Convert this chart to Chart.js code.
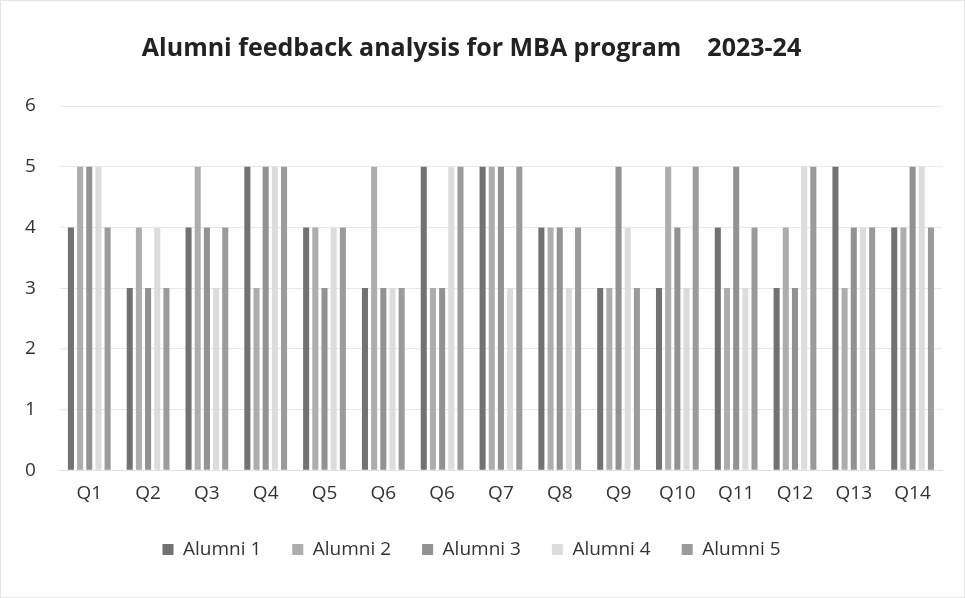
<!DOCTYPE html>
<html>
<head>
<meta charset="utf-8">
<script src="https://cdn.jsdelivr.net/npm/chart.js@4/dist/chart.umd.min.js"></script>
<style>
  html, body { margin: 0; padding: 0; background: #fff; }
  #wrap { width: 965px; height: 598px; position: relative; box-sizing: border-box; border: 1px solid #e4e4e4; }
</style>
</head>
<body>
<div id="wrap"><canvas id="c"></canvas></div>
<script>
const labels = ['Q1', 'Q2', 'Q3', 'Q4', 'Q5', 'Q6', 'Q6', 'Q7', 'Q8', 'Q9', 'Q10', 'Q11', 'Q12', 'Q13', 'Q14'];
const alumni1 = [4, 3, 4, 5, 4, 3, 5, 5, 4, 3, 3, 4, 3, 5, 4];
const alumni2 = [5, 4, 5, 3, 4, 5, 3, 5, 4, 3, 5, 3, 4, 3, 4];
const alumni3 = [5, 3, 4, 5, 3, 3, 3, 5, 4, 5, 4, 5, 3, 4, 5];
const alumni4 = [5, 4, 3, 5, 4, 3, 5, 3, 3, 4, 3, 3, 5, 4, 5];
const alumni5 = [4, 3, 4, 5, 4, 3, 5, 5, 4, 3, 5, 4, 5, 4, 4];
const yTicks = [0, 1, 2, 3, 4, 5, 6];

const font = "'Open Sans', 'DejaVu Sans', sans-serif";

function ds(label, data, color) {
  return { label, data, backgroundColor: color, borderWidth: 0, barPercentage: 0.66, categoryPercentage: 0.78 };
}

new Chart(document.getElementById('c'), {
  type: 'bar',
  data: {
    labels,
    datasets: [
      ds('Alumni 1', alumni1, '#727272'),
      ds('Alumni 2', alumni2, '#adadad'),
      ds('Alumni 3', alumni3, '#929292'),
      ds('Alumni 4', alumni4, '#dcdcdc'),
      ds('Alumni 5', alumni5, '#9b9b9b')
    ]
  },
  options: {
    responsive: true,
    maintainAspectRatio: false,
    animation: false,
    layout: { padding: { left: 0, right: 22, top: 18, bottom: 28 } },
    plugins: {
      title: {
        display: true,
        text: 'Alumni feedback analysis for MBA program    2023-24',
        color: '#222',
        font: { family: font, size: 25, weight: 'bold' },
        padding: { top: 15, bottom: 42 }
      },
      legend: {
        position: 'bottom',
        labels: {
          color: '#333',
          font: { family: font, size: 19 },
          boxWidth: 11,
          boxHeight: 11,
          padding: 31
        }
      },
      tooltip: { enabled: false }
    },
    scales: {
      x: {
        grid: { display: false },
        border: { display: true, color: '#e0e0e0' },
        ticks: { color: '#333', font: { family: font, size: 19 }, padding: 4 }
      },
      y: {
        min: 0,
        max: 6,
        afterBuildTicks: axis => { axis.ticks = yTicks.map(v => ({ value: v })); },
        grid: { color: '#e8e8e8', drawTicks: false },
        border: { display: false },
        ticks: { color: '#333', font: { family: font, size: 19 }, padding: 24 }
      }
    }
  }
});
</script>
</body>
</html>
